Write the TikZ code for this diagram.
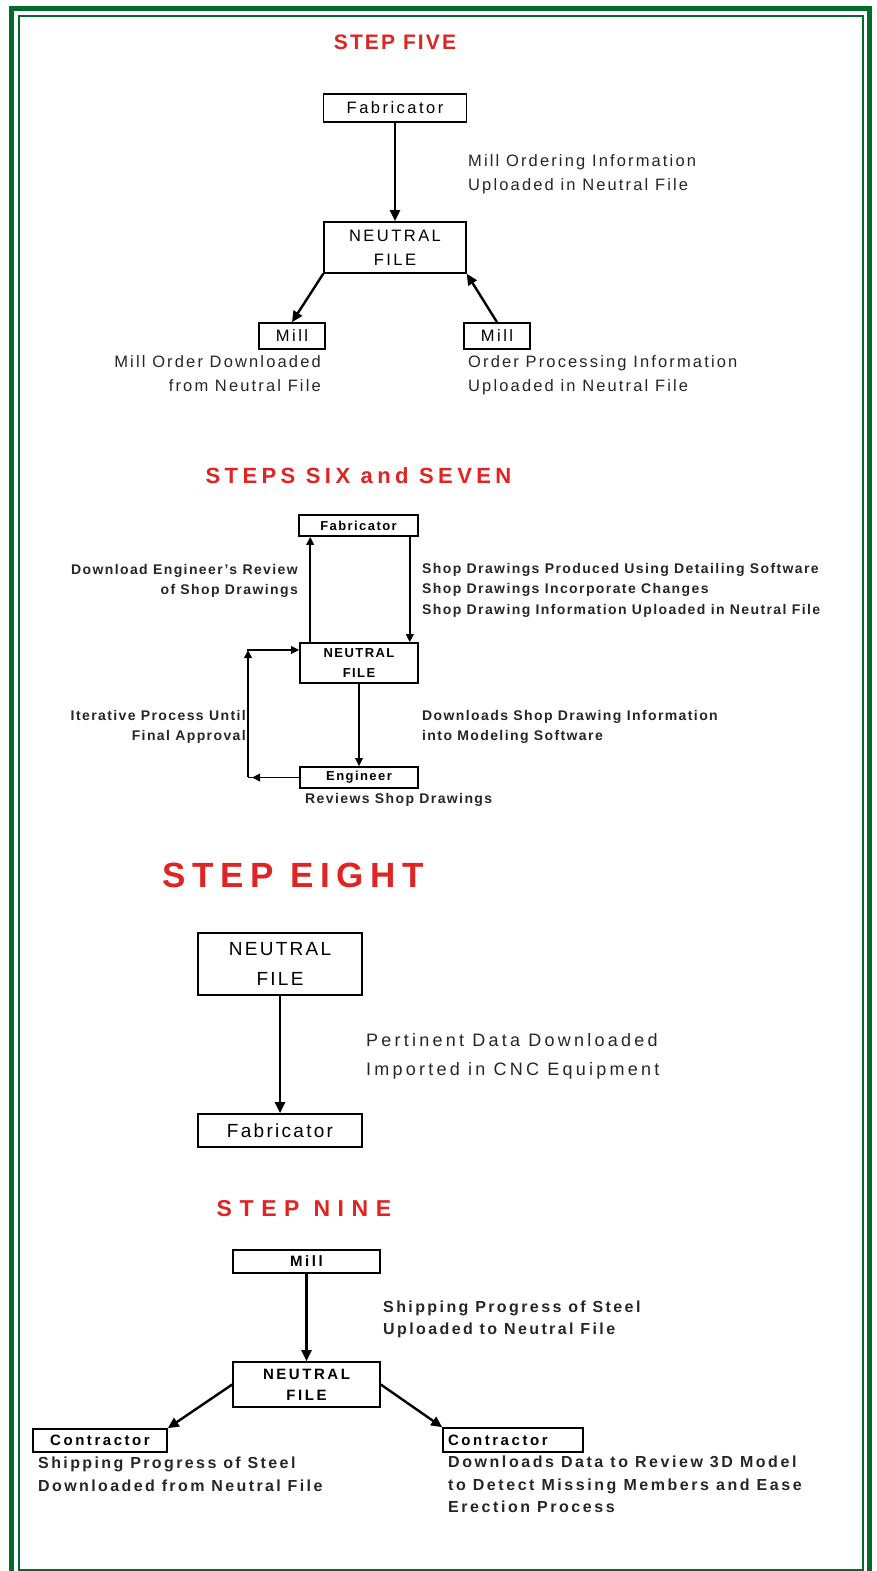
\documentclass[tikz,border=0pt]{standalone}
\usepackage{fontspec}
\setmainfont{Liberation Sans}
\usetikzlibrary{arrows.meta}

\definecolor{framegreen}{RGB}{0,107,45}
\definecolor{stepred}{RGB}{224,36,36}

\begin{document}
\begin{tikzpicture}[x=1pt,y=-1pt]
        % size/leading/letterspace
        \def\plainfont#1#2#3{\fontsize{#1}{#2}\selectfont\addfontfeature{LetterSpace=#3}}
        \def\heavyfont#1#2#3{\fontsize{#1}{#2}\selectfont\bfseries\addfontfeature{LetterSpace=#3}}

        \tikzset{
           steptitle/.style={text=stepred, inner sep=0pt},
           filebox/.style={draw, line width=1.6pt, inner sep=0pt, align=center},
           remark/.style={inner sep=0pt, text=black!85, align=left, anchor=north west},
           flow/.style={line width=2.4pt, -{Triangle[length=11pt,width=10pt]}},
           thinflow/.style={line width=1.8pt, -{Triangle[length=8pt,width=7.5pt]}}
        }

        \useasboundingbox (0,0) rectangle (876,1571);
        \fill[white] (0,0) rectangle (876,1571);

        % Frame
        \draw[framegreen, line width=5pt] (11.5,1580) -- (11.5,8.5) -- (869.5,8.5) -- (869.5,1580);
        \draw[framegreen, line width=1.5pt] (19,1570) rectangle (863,16);

        % Step five
        \node[steptitle, font=\heavyfont{21}{21}{10}] (titlefive) at (395,42.5) {STEP FIVE};

        \node[filebox, font=\plainfont{16.5}{24}{15}, minimum width=143, minimum height=28] (fabfive) at (395,108) {Fabricator};
        \node[filebox, font=\plainfont{16.5}{24}{15}, minimum width=142, minimum height=51] (nffive) at (395,247.5) {NEUTRAL\\FILE};
        \node[filebox, font=\plainfont{16.5}{24}{15}, minimum width=66, minimum height=26] (millleft) at (292,336) {Mill};
        \node[filebox, font=\plainfont{16.5}{24}{15}, minimum width=66, minimum height=26] (millright) at (497,336) {Mill};

        \node[remark, font=\plainfont{16.5}{24.5}{13}] (upfive) at (468,154) {Mill Ordering Information\\Uploaded in Neutral File};
        \node[remark, font=\plainfont{16.5}{24.5}{13}, anchor=north east, align=right] (downfive) at (321,355) {Mill Order Downloaded\\from Neutral File};
        \node[remark, font=\plainfont{16.5}{24.5}{13}] (procfive) at (468,355) {Order Processing Information\\Uploaded in Neutral File};

        \draw[flow] (fabfive.south) -- (nffive.north);
        \draw[flow] (nffive.south west) -- (millleft.north);
        \draw[flow] (millright.north) -- (nffive.south east);

        % Steps six and seven
        \node[steptitle, font=\heavyfont{22}{22}{20}] (titlesix) at (358.5,476) {STEPS SIX and SEVEN};

        \node[filebox, font=\heavyfont{13}{20}{11}, minimum width=119, minimum height=21] (fabsix) at (358.5,525.5) {Fabricator};
        \node[filebox, font=\heavyfont{13}{20}{11}, minimum width=118, minimum height=40] (nfsix) at (359,663) {NEUTRAL\\FILE};
        \node[filebox, font=\heavyfont{13}{20}{11}, minimum width=118, minimum height=21] (engsix) at (359,777.5) {Engineer};

        \node[remark, font=\heavyfont{14}{20}{10}, anchor=north east, align=right] (reviewsix) at (298,564) {Download Engineer's Review\\of Shop Drawings};
        \node[remark, font=\heavyfont{14}{20.5}{10}] (shopsix) at (422,563) {Shop Drawings Produced Using Detailing Software\\Shop Drawings Incorporate Changes\\Shop Drawing Information Uploaded in Neutral File};
        \node[remark, font=\heavyfont{14}{20}{10}, anchor=north east, align=right] (loopsix) at (246,710) {Iterative Process Until\\Final Approval};
        \node[remark, font=\heavyfont{14}{20}{10}] (modelsix) at (422,710) {Downloads Shop Drawing Information\\into Modeling Software};
        \node[remark, font=\heavyfont{14}{20}{10}] (engnote) at (305,793) {Reviews Shop Drawings};

        \coordinate (loopbot) at (248,777.5);
        \coordinate (looptop) at (248,650);

        \draw[thinflow] ([xshift=11pt]nfsix.north west) -- ([xshift=12pt]fabsix.south west);
        \draw[thinflow] ([xshift=-9pt]fabsix.south east) -- ([xshift=-9pt]nfsix.north east);
        \draw[thinflow] (nfsix.south) -- (engsix.north);
        \draw[thinflow] (engsix.west) -- ([xshift=4pt]loopbot);
        \draw[line width=1.8pt] ([xshift=5pt]loopbot) -- (loopbot);
        \draw[thinflow] ([yshift=0.9pt]loopbot) -- (looptop);
        \draw[thinflow] ([xshift=-0.9pt]looptop) -- (looptop -| nfsix.west);

        % Step eight
        \node[steptitle, font=\heavyfont{35}{35}{19}] (titleeight) at (293.5,875.5) {STEP EIGHT};

        \node[filebox, font=\plainfont{19}{30}{12}, minimum width=164, minimum height=62] (nfeight) at (280,964) {NEUTRAL\\FILE};
        \node[filebox, font=\plainfont{19}{30}{12}, minimum width=164, minimum height=33] (fabeight) at (280,1130.5) {Fabricator};

        \node[remark, font=\plainfont{18}{29}{18}] (cnceight) at (366,1033) {Pertinent Data Downloaded\\Imported in CNC Equipment};

        \draw[flow] (nfeight.south) -- (fabeight.north);

        % Step nine
        \node[steptitle, font=\heavyfont{23}{23}{33}] (titlenine) at (304,1208.5) {STEP NINE};

        \node[filebox, font=\heavyfont{15}{21}{17}, minimum width=147, minimum height=23] (millnine) at (306.5,1261.5) {Mill};
        \node[filebox, font=\heavyfont{15}{21}{17}, minimum width=147, minimum height=45] (nfnine) at (306.5,1384.5) {NEUTRAL\\FILE};
        \node[filebox, font=\heavyfont{15}{21}{17}, minimum width=134, minimum height=23] (contleft) at (100,1440.5) {Contractor};
        \node[filebox, font=\heavyfont{15}{21}{17}, minimum height=24, text width=130pt, inner xsep=5pt, align=left] (contright) at (513,1440) {Contractor};

        \node[remark, font=\heavyfont{16}{22}{15}] (shipnine) at (383,1301) {Shipping Progress of Steel\\Uploaded to Neutral File};
        \node[remark, font=\heavyfont{16}{22.5}{15}] (leftnine) at (38,1457) {Shipping Progress of Steel\\Downloaded from Neutral File};
        \node[remark, font=\heavyfont{16}{22.5}{16}] (rightnine) at (448,1456) {Downloads Data to Review 3D Model\\to Detect Missing Members and Ease\\Erection Process};

        \draw[flow] (millnine.south) -- (nfnine.north);
        \draw[flow] (nfnine.west) -- (contleft.north east);
        \draw[flow] (nfnine.east) -- (contright.north west);
\end{tikzpicture}
\end{document}
